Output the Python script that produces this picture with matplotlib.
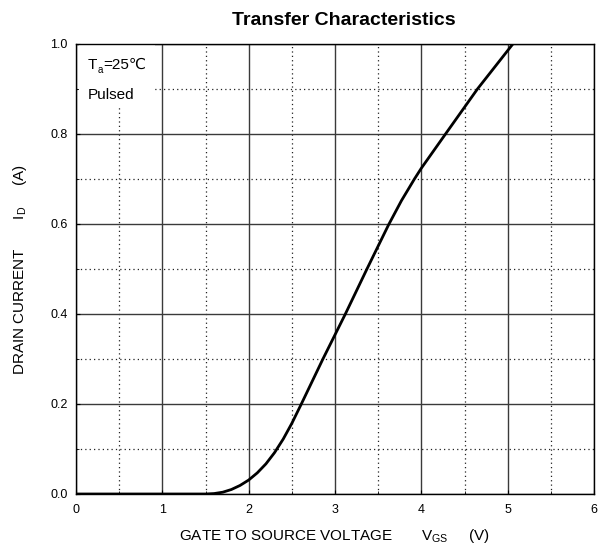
import numpy as np
import matplotlib.pyplot as plt
from matplotlib.ticker import MultipleLocator
from matplotlib.patches import Rectangle

plt.rcParams['font.family'] = ['Liberation Sans', 'DejaVu Sans']
plt.rcParams['mathtext.fontset'] = 'custom'
plt.rcParams['mathtext.rm'] = 'Liberation Sans'

# transfer curve
vgs = [0, 1.5, 1.6, 1.7, 1.8, 1.9, 2.0, 2.1, 2.2, 2.3, 2.4, 2.5, 2.61, 2.73, 2.86,
       3.12, 3.37, 3.5, 3.62, 3.77, 3.92, 4.0, 4.28, 4.65, 5.06]
i_d = [0, 0, 0.001, 0.004, 0.01, 0.019, 0.031, 0.047, 0.067, 0.092, 0.122, 0.157, 0.2, 0.248, 0.3,
       0.4, 0.5, 0.551, 0.598, 0.652, 0.7, 0.724, 0.8, 0.9, 1.0]

x_ticks = [0, 1, 2, 3, 4, 5, 6]
y_ticks = [0.0, 0.2, 0.4, 0.6, 0.8, 1.0]

fig = plt.figure(figsize=(6.06, 5.52), dpi=100)
ax = fig.add_axes([76 / 606, 58 / 552, 518 / 606, 450 / 552])

ax.plot(vgs, i_d, color='black', lw=2.0, zorder=3, solid_joinstyle='round')

ax.set_xlim(0, 6)
ax.set_ylim(0, 1.0)
ax.set_xticks(x_ticks)
ax.set_yticks(y_ticks)
ax.set_yticklabels([f'{v:.1f}' for v in y_ticks])
ax.xaxis.set_minor_locator(MultipleLocator(0.5))
ax.yaxis.set_minor_locator(MultipleLocator(0.1))
ax.grid(which='major', color='#3a3a3a', lw=1.0, ls='-')
ax.grid(which='minor', color='#222222', lw=0.9, ls=(0, (1, 2.5)))
ax.tick_params(which='both', direction='in', length=3, labelsize=9, color='black')
ax.tick_params(axis='x', pad=7)
ax.tick_params(axis='y', pad=6)
ax.tick_params(which='minor', length=2)
for s in ax.spines.values():
    s.set_linewidth(1.0)
    s.set_zorder(4)

# white patch behind the condition note
ax.add_patch(Rectangle((0.006, 0.858), 0.147, 0.142, transform=ax.transAxes,
                       facecolor='white', edgecolor='none', zorder=2))

fig.text(335 / 606, 12 / 552,
         r'GATE TO SOURCE VOLTAGE       V$_{\mathregular{GS}}$     (V)',
         fontsize=11, ha='center', va='baseline')
fig.text(20 / 606, 283 / 552,
         r'DRAIN CURRENT       I$_{\mathregular{D}}$     (A)',
         fontsize=11, ha='center', va='center', rotation=90)
ax.set_title('Transfer Characteristics', fontsize=14, fontweight='bold',
             x=0.517, pad=14)

# T_a=25℃ built from pieces so ℃ can come from DejaVu Sans
t_T = ax.text(0.023, 0.945, 'T', transform=ax.transAxes,
              fontsize=11, va='baseline', ha='left', zorder=5)
t_a = ax.annotate('a', xy=(1, 0), xycoords=t_T, xytext=(0.3, -2.5),
                  textcoords='offset points', fontsize=7, va='bottom', ha='left', zorder=5)
ax.annotate('=25℃', xy=(1, 0), xycoords=(t_a, t_T), xytext=(0.3, 0),
            textcoords='offset points', fontsize=11, va='bottom', ha='left', zorder=5)
ax.text(0.023, 0.878, 'Pulsed', transform=ax.transAxes,
        fontsize=11, va='baseline', ha='left', zorder=5)

fig.savefig('out.png', dpi=100)
